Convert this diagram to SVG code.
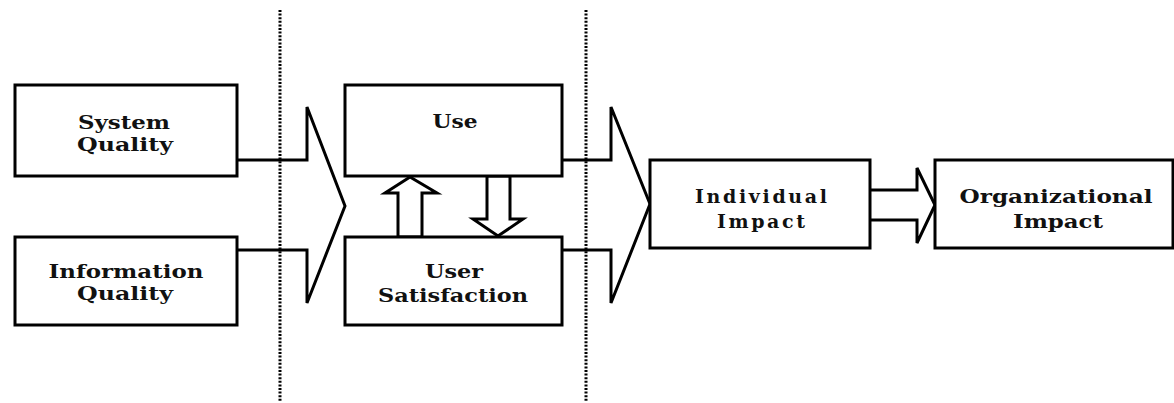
<svg xmlns="http://www.w3.org/2000/svg" width="1174" height="403" viewBox="0 0 1174 403">
<style>
.box{fill:#fff;stroke:#000;stroke-width:3}
.arr{fill:#fff;stroke:#000;stroke-width:3;stroke-linejoin:miter}
.dot{stroke:#000;stroke-width:3;stroke-dasharray:2 1.6;fill:none}
.t{font-family:"DejaVu Serif","Liberation Serif",serif;font-weight:bold;font-size:19px;fill:#111;text-anchor:middle}
</style>
<rect width="1174" height="403" fill="#fff"/>
<g id="connectors">
<path class="arr" d="M237,160 H307 V107 L345,206 L307,303 V250 H237"/>
<path class="arr" d="M562,160 H611 V107 L650,204 L611,303 V250 H562"/>
<path class="arr" d="M870,190 H917 V168 L935,205 L917,243 V220 H870"/>
<polygon class="arr" points="398,237 398,193 385,193 410,177 437,193 422,193 422,237"/>
<polygon class="arr" points="487,176 510,176 510,219 523,219 498,236 473,219 487,219"/>
</g>
<g id="system-quality">
<rect class="box" x="15" y="85" width="222" height="91"/>
<text class="t" x="124" y="129" textLength="92" lengthAdjust="spacingAndGlyphs">System</text>
<text class="t" x="125" y="151" textLength="96" lengthAdjust="spacingAndGlyphs">Quality</text>
</g>
<g id="information-quality">
<rect class="box" x="15" y="237" width="222" height="88"/>
<text class="t" x="126" y="278" textLength="155" lengthAdjust="spacingAndGlyphs">Information</text>
<text class="t" x="125" y="300" textLength="96" lengthAdjust="spacingAndGlyphs">Quality</text>
</g>
<g id="use">
<rect class="box" x="345" y="85" width="217" height="91"/>
<text class="t" x="455" y="128" textLength="45" lengthAdjust="spacingAndGlyphs">Use</text>
</g>
<g id="user-satisfaction">
<rect class="box" x="345" y="237" width="217" height="88"/>
<text class="t" x="454" y="278" textLength="58" lengthAdjust="spacingAndGlyphs">User</text>
<text class="t" x="453" y="302" textLength="150" lengthAdjust="spacingAndGlyphs">Satisfaction</text>
</g>
<g id="individual-impact">
<rect class="box" x="650" y="160" width="220" height="88"/>
<text class="t" x="761" y="203" textLength="132" lengthAdjust="spacing">Individual</text>
<text class="t" x="761" y="228" textLength="88" lengthAdjust="spacing">Impact</text>
</g>
<g id="organizational-impact">
<rect class="box" x="935" y="160" width="238" height="88"/>
<text class="t" x="1056" y="203" textLength="193" lengthAdjust="spacingAndGlyphs">Organizational</text>
<text class="t" x="1058" y="228" textLength="90" lengthAdjust="spacingAndGlyphs">Impact</text>
</g>
<g id="dividers">
<line class="dot" x1="280" y1="10" x2="280" y2="401"/>
<line class="dot" x1="586" y1="10" x2="586" y2="401"/>
</g>
</svg>
